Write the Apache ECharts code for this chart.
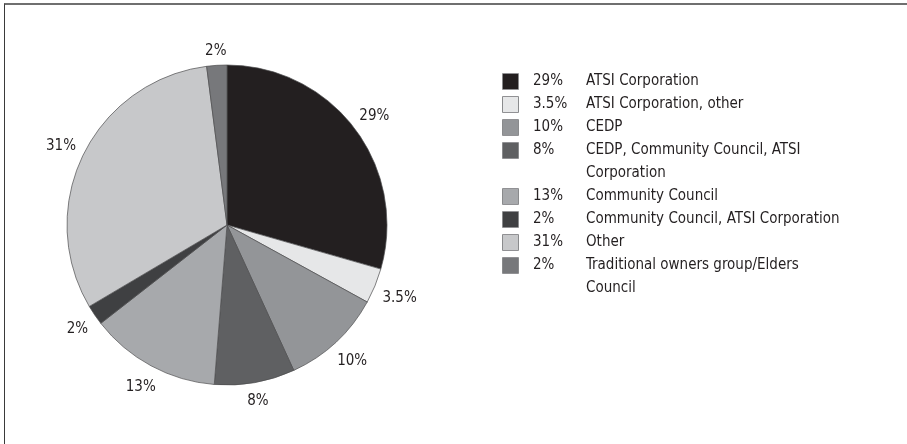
<!DOCTYPE html>
<html>
<head>
<meta charset="utf-8">
<script src="https://cdn.jsdelivr.net/npm/echarts@6/dist/echarts.min.js"></script>
<style>
  html, body { margin: 0; padding: 0; background: #fff; }
  #chart { width: 907px; height: 444px; position: absolute; left: 0; top: 0; }
  /* thin frame: top and left rules only */
  #frame { position: absolute; left: 4px; top: 3px; right: 0; bottom: 0;
           border-top: 2px solid #6f6f6f; border-left: 1px solid #3a3a3a; pointer-events: none; }
</style>
</head>
<body>
<div id="chart"></div>
<div id="frame"></div>
<script>
const names = [
  'ATSI Corporation',
  'ATSI Corporation, other',
  'CEDP',
  'CEDP, Community Council, ATSI Corporation',
  'Community Council',
  'Community Council, ATSI Corporation',
  'Other',
  'Traditional owners group/Elders Council'
]
const values = [29, 3.5, 10, 8, 13, 2, 31, 2]
const colors = ['#231f20', '#e6e7e8', '#939598', '#5f6062', '#a7a9ac', '#3f4042', '#c7c8ca', '#77787b']

const FONT = '"Liberation Sans Narrow", "DejaVu Sans Condensed", "Noto Sans", sans-serif'
const FS = 15
const TEXT = '#231f20'
const CX = 227, CY = 225, R = 160

function pct(v) { return v + '%' }

// break long legend names onto a second line
function wrap(s, max) {
  const words = s.split(' ')
  const lines = []
  let cur = ''
  words.forEach(w => {
    const next = cur ? cur + ' ' + w : w
    if (next.length > max && cur) { lines.push(cur); cur = w } else cur = next
  })
  if (cur) lines.push(cur)
  return lines
}

const rich = {
  g: { width: 15, lineHeight: 23 },
  b: { width: 15, height: 15, lineHeight: 23 },
  p: { width: 53, lineHeight: 23, fontSize: FS, fontFamily: FONT, color: TEXT },
  n: { lineHeight: 23, fontSize: FS, fontFamily: FONT, color: TEXT }
}
colors.forEach((c, i) => {
  rich['s' + i] = { width: 15, height: 15, lineHeight: 23, backgroundColor: c, borderColor: '#6d6e71', borderWidth: 0.8 }
})

const total = values.reduce((a, b) => a + b, 0)
const midAngle = values.map((v, i) => {
  const before = values.slice(0, i).reduce((a, b) => a + b, 0)
  return (before + v / 2) / total * Math.PI * 2
})

const chart = echarts.init(document.getElementById('chart'))
chart.setOption({
  backgroundColor: '#fff',
  animation: false,
  legend: {
    orient: 'vertical',
    left: 498, top: 70,
    padding: 0, itemGap: 0,
    icon: 'none', itemWidth: 0, itemHeight: 0,
    selectedMode: false,
    data: names,
    textStyle: { fontSize: FS, fontFamily: FONT, color: TEXT, lineHeight: 23, rich: rich },
    formatter: (name) => {
      const i = names.indexOf(name)
      const lines = wrap(name, 35)
      return lines.map((ln, k) => k === 0
        ? `{s${i}| }{g| }{p|${pct(values[i])}}{n|${ln}}`
        : `{b| }{g| }{p| }{n|${ln}}`).join('\n')
    }
  },
  series: [{
    type: 'pie',
    center: [CX, CY],
    radius: R,
    startAngle: 90,
    clockwise: true,
    data: names.map((n, i) => ({ name: n, value: values[i], itemStyle: { color: colors[i] } })),
    itemStyle: { borderColor: '#4d4d4f', borderWidth: 0.7 },
    emphasis: { disabled: true },
    label: {
      show: true,
      overflow: 'none',
      formatter: (p) => pct(p.value),
      fontSize: FS, fontFamily: FONT, color: TEXT
    },
    labelLine: { show: false },
    // place each label just outside the rim along its slice's mid angle
    labelLayout: (p) => {
      const a = midAngle[p.dataIndex]
      const s = Math.sin(a), c = Math.cos(a)
      const w = p.labelRect.width, h = p.labelRect.height
      const d = R + 8 + Math.abs(s) * w / 2 + Math.abs(c) * h / 2
      return { x: CX + d * s, y: CY - d * c + 2, align: 'center', verticalAlign: 'middle' }
    }
  }]
})
</script>
</body>
</html>
